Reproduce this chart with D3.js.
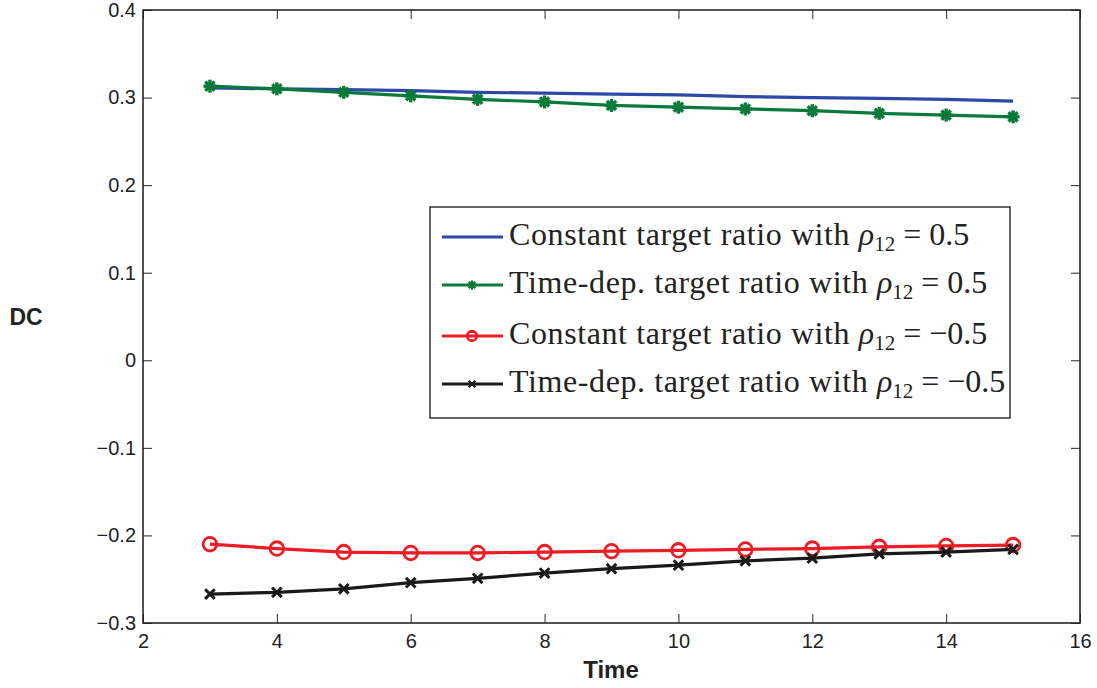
<!DOCTYPE html>
<html>
<head>
<meta charset="utf-8">
<script src="https://cdn.jsdelivr.net/npm/d3@7"></script>
<style>
  html, body { margin: 0; padding: 0; background: #fff; }
  svg { display: block; }
</style>
</head>
<body>
<svg id="chart" width="1097" height="688"></svg>
<script>
// Time horizon and DC values for the four strategies
const times = [3, 4, 5, 6, 7, 8, 9, 10, 11, 12, 13, 14, 15];
const constPos = [0.311, 0.310, 0.309, 0.308, 0.306, 0.305, 0.304, 0.303, 0.301, 0.300, 0.299, 0.298, 0.296];
const timeDepPos = [0.313, 0.310, 0.306, 0.302, 0.298, 0.295, 0.291, 0.289, 0.287, 0.285, 0.282, 0.280, 0.278];
const constNeg = [-0.210, -0.215, -0.219, -0.220, -0.220, -0.219, -0.218, -0.217, -0.216, -0.215, -0.213, -0.212, -0.211];
const timeDepNeg = [-0.267, -0.265, -0.261, -0.254, -0.249, -0.243, -0.238, -0.234, -0.229, -0.226, -0.221, -0.219, -0.216];

const xTicks = [2, 4, 6, 8, 10, 12, 14, 16];
const yTicks = [-0.3, -0.2, -0.1, 0, 0.1, 0.2, 0.3, 0.4];

const seriesNames = ["Constant target ratio with", "Time-dep. target ratio with", "Constant target ratio with", "Time-dep. target ratio with"];
const seriesRho = ["0.5", "0.5", "\u22120.5", "\u22120.5"];

const series = [
  { values: constPos, color: "#2d48a6", marker: "none" },
  { values: timeDepPos, color: "#0a7a3a", marker: "star" },
  { values: constNeg, color: "#ee1c24", marker: "circle" },
  { values: timeDepNeg, color: "#1a1a1a", marker: "cross" }
];

const svg = d3.select("#chart");
const m = { left: 143, right: 1080, top: 10, bottom: 623 };

const x = d3.scaleLinear().domain([2, 16]).range([m.left, m.right]);
const y = d3.scaleLinear().domain([-0.3, 0.4]).range([m.bottom, m.top]);

const fmt = v => {
  const s = d3.format(".1f")(Math.abs(v) < 1e-9 ? 0 : v);
  return (s === "0.0" ? "0" : s).replace("-", "\u2212");
};
const fmtX = d3.format("d");

const tickLen = 9;
const axisColor = "#262626";
const sans = "'Liberation Sans', Arial, sans-serif";

// bottom axis (ticks pointing inward)
const gx = svg.append("g").attr("transform", `translate(0,${m.bottom})`)
  .call(d3.axisBottom(x).tickValues(xTicks).tickFormat(fmtX).tickSizeInner(-tickLen).tickSizeOuter(0).tickPadding(25));
// top axis
const gxt = svg.append("g").attr("transform", `translate(0,${m.top})`)
  .call(d3.axisTop(x).tickValues(xTicks).tickFormat("").tickSizeInner(-tickLen).tickSizeOuter(0));
// left axis
const gy = svg.append("g").attr("transform", `translate(${m.left},0)`)
  .call(d3.axisLeft(y).tickValues(yTicks).tickFormat(fmt).tickSizeInner(-tickLen).tickSizeOuter(0).tickPadding(7));
// right axis
const gyr = svg.append("g").attr("transform", `translate(${m.right},0)`)
  .call(d3.axisRight(y).tickValues(yTicks).tickFormat("").tickSizeInner(-tickLen).tickSizeOuter(0));

[gx, gxt, gy, gyr].forEach(g => {
  g.select(".domain").remove();
  g.selectAll(".tick line").attr("stroke", axisColor).attr("stroke-width", 1);
  g.selectAll("text").attr("fill", "#222").style("font-family", sans).style("font-size", "20px");
});
gx.selectAll("text").attr("dy", "0");

// frame
svg.append("rect")
  .attr("x", m.left).attr("y", m.top)
  .attr("width", m.right - m.left).attr("height", m.bottom - m.top)
  .attr("fill", "none").attr("stroke", axisColor).attr("stroke-width", 1.6);

// axis titles
svg.append("text").attr("x", 611).attr("y", 678)
  .attr("text-anchor", "middle").style("font-family", sans).style("font-weight", "bold")
  .style("font-size", "24px").attr("fill", "#222").text("Time");
svg.append("text").attr("x", 26).attr("y", 325)
  .attr("text-anchor", "middle").style("font-family", sans).style("font-weight", "bold")
  .style("font-size", "23px").attr("fill", "#222").text("DC");

// marker drawing
function drawMarker(g, type, cx, cy, color, scale = 1) {
  if (type === "star") {
    const r = 6.5 * scale;
    for (let k = 0; k < 4; k++) {
      const a = k * Math.PI / 4;
      g.append("line")
        .attr("x1", cx - r * Math.cos(a)).attr("y1", cy - r * Math.sin(a))
        .attr("x2", cx + r * Math.cos(a)).attr("y2", cy + r * Math.sin(a))
        .attr("stroke", color).attr("stroke-width", 3.4 * scale);
    }
  } else if (type === "circle") {
    g.append("circle").attr("cx", cx).attr("cy", cy).attr("r", 6.8 * scale)
      .attr("fill", "none").attr("stroke", color).attr("stroke-width", 2.8);
  } else if (type === "cross") {
    const r = 4.8 * scale;
    g.append("path")
      .attr("d", `M${cx - r},${cy - r}L${cx + r},${cy + r}M${cx - r},${cy + r}L${cx + r},${cy - r}`)
      .attr("stroke", color).attr("stroke-width", 3 * scale).attr("fill", "none");
  }
}

const line = d3.line().x((d, i) => x(times[i])).y(d => y(d));

series.forEach(s => {
  const g = svg.append("g");
  g.append("path").datum(s.values).attr("d", line)
    .attr("fill", "none").attr("stroke", s.color).attr("stroke-width", 3.2)
    .attr("stroke-linejoin", "round");
  if (s.marker !== "none") {
    s.values.forEach((v, i) => drawMarker(g, s.marker, x(times[i]), y(v), s.color));
  }
});

// legend
const lg = svg.append("g");
lg.append("rect").attr("x", 430).attr("y", 207).attr("width", 580).attr("height", 211)
  .attr("fill", "#fff").attr("stroke", axisColor).attr("stroke-width", 1.4);

const rowY = [237, 285, 336, 384];
const serif = "'Liberation Serif', 'Times New Roman', serif";
series.forEach((s, i) => {
  const yy = rowY[i];
  lg.append("line").attr("x1", 442).attr("x2", 503).attr("y1", yy).attr("y2", yy)
    .attr("stroke", s.color).attr("stroke-width", 3.2);
  if (s.marker !== "none") drawMarker(lg, s.marker, 472, yy, s.color, 0.7);
  const t = lg.append("text").attr("x", 509).attr("y", yy + 8)
    .style("font-family", serif).style("font-size", "32px").attr("fill", "#222");
  t.append("tspan").style("letter-spacing", "0.6px").text(seriesNames[i] + " ");
  t.append("tspan").style("font-style", "italic").text("\u03C1");
  t.append("tspan").attr("dy", 6).style("font-size", "21px").text("12");
  t.append("tspan").attr("dy", -6).attr("dx", 8).text("=");
  t.append("tspan").attr("dx", 8).text(seriesRho[i]);
});
</script>
</body>
</html>
